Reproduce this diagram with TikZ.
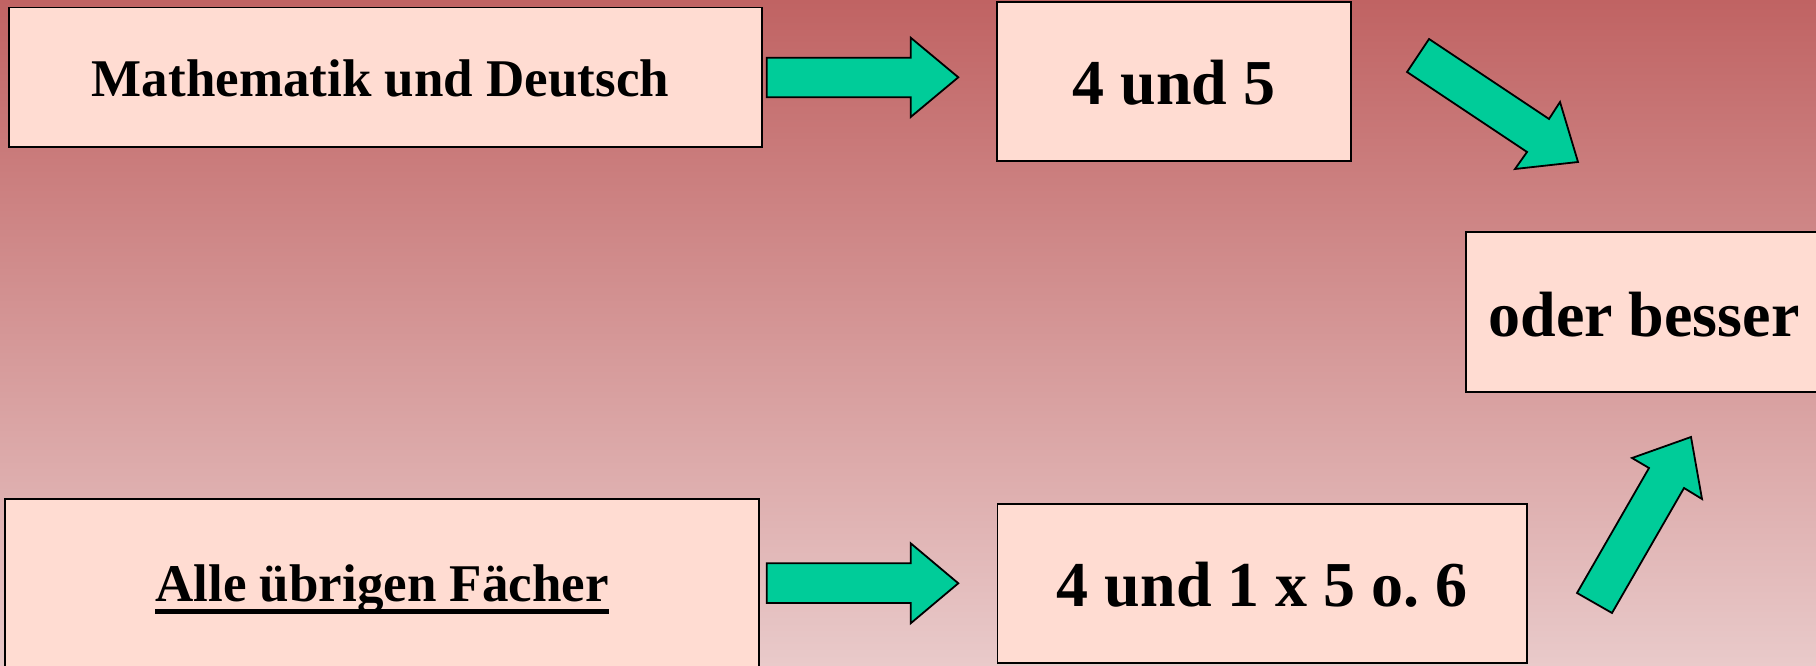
\documentclass[tikz,border=0pt]{standalone}
\usepackage{fontspec}
\setmainfont{Liberation Serif}
\frenchspacing
\definecolor{bgtop}{RGB}{192,99,99}
\definecolor{bgbot}{RGB}{233,202,202}
\definecolor{boxfill}{RGB}{255,220,210}
\definecolor{arrowfill}{RGB}{0,204,153}
\newcommand\thickul[1]{\setbox0=\hbox{#1}\rlap{\rule[-12.3pt]{\wd0}{4.7pt}}\box0}
\tikzset{
  box/.style={draw=black, line width=1.8pt, fill=boxfill, rectangle, inner sep=0pt,
    text depth=0pt, font=\bfseries},
  small/.style={font=\fontsize{53}{60}\selectfont\bfseries},
  big/.style={font=\fontsize{64}{72}\selectfont\bfseries},
  blockarrow/.style={draw=black, line width=1.8pt, fill=arrowfill, line join=miter}
}
\begin{document}
\begin{tikzpicture}[x=1pt,y=-1pt]
\useasboundingbox (0,0) rectangle (1816,666);
\shade[top color=bgtop, bottom color=bgbot] (0,0) rectangle (1816,666);

\node[box, small, minimum width=753pt, minimum height=139.4pt, text height=38.8pt]
  (b1) at (385.5,77.3) {Mathematik und Deutsch\hspace*{10pt}};
\node[box, big, minimum width=353.4pt, minimum height=159pt, text height=47.6pt]
  (b2) at (1174,81.2) {4 und 5};
\node[box, big, minimum width=356pt, minimum height=160pt, text height=48pt]
  (b3) at (1644,312.3) {oder besser};
\node[box, small, minimum width=754pt, minimum height=181pt, text height=24.4pt]
  (b4) at (382,589.5) {\thickul{Alle übrigen Fächer}};
\node[box, big, minimum width=529.5pt, minimum height=159.3pt, text height=46.1pt]
  (b5) at (1262.25,583.65) {4 und 1 x 5 o.\ 6};

% block arrows
\draw[blockarrow] (766.7,57.7) -- (910.7,57.7) -- (910.7,37.7) -- (958.3,77.3)
  -- (910.7,117) -- (910.7,97.3) -- (766.7,97.3) -- cycle;
\draw[blockarrow] (766.7,563.3) -- (910.7,563.3) -- (910.7,543.3) -- (958.3,583.3)
  -- (910.7,623.3) -- (910.7,603) -- (766.7,603) -- cycle;
\draw[blockarrow] (1429,39) -- (1549,119) -- (1560,102) -- (1578,162)
  -- (1515,169) -- (1527,152) -- (1407,72) -- cycle;
\draw[blockarrow] (1577,593) -- (1649,468) -- (1632,458) -- (1691,437)
  -- (1702,499) -- (1684,488) -- (1612,613) -- cycle;
\end{tikzpicture}
\end{document}
